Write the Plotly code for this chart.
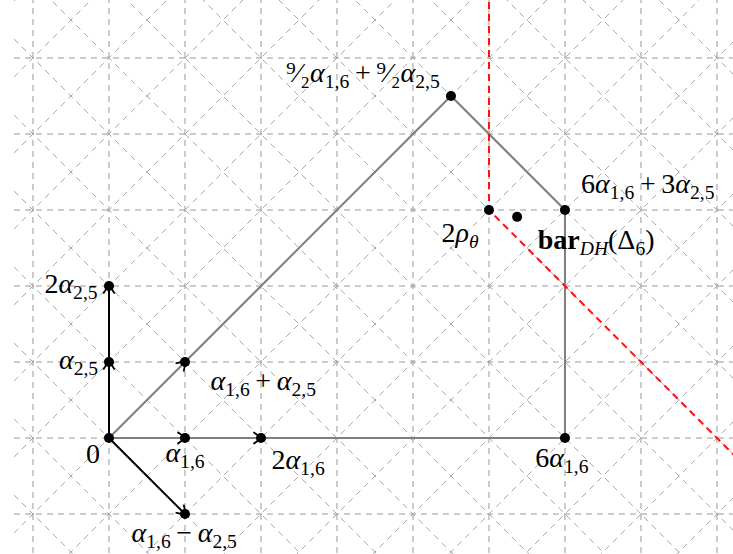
import numpy as np
import plotly.graph_objects as go

# ---------------- data ----------------
grid_x = [-1, 0, 1, 2, 3, 4, 5, 6, 7, 8]
grid_y = [-1, 0, 1, 2, 3, 4, 5]
diag_sum = list(range(-3, 15))      # x + y = k
diag_diff = list(range(-7, 10))     # x - y = k

polygon_x = [0, 4.5, 6, 6, 0]
polygon_y = [0, 4.5, 3, 0, 0]

# black arrows: (start, end)
arrow_starts = [(0, 0), (0, 1), (0, 0), (1, 0), (0, 0), (0, 0)]
arrow_ends = [(0, 1), (0, 2), (1, 0), (2, 0), (1, 1), (1, -1)]
black_segments = [((0, 0), (0, 2)), ((0, 0), (1, -1))]

point_x = [0, 1, 2, 6, 0, 0, 1, 1, 4.5, 6, 5, 5.37]
point_y = [0, 0, 0, 0, 1, 2, 1, -1, 4.5, 3, 3, 2.91]

rho = (5, 3)
red_dir_up = (0, 1)
red_dir_diag = (1, -1)

SP = "\u2009"
labels = ["0", "<i>α</i><sub>1,6</sub>", "2<i>α</i><sub>1,6</sub>", "6<i>α</i><sub>1,6</sub>",
          "<i>α</i><sub>2,5</sub>", "2<i>α</i><sub>2,5</sub>",
          f"<i>α</i><sub>1,6</sub>{SP}+{SP}<i>α</i><sub>2,5</sub>",
          f"<i>α</i><sub>1,6</sub>{SP}−{SP}<i>α</i><sub>2,5</sub>",
          f"⁹⁄₂<i>α</i><sub>1,6</sub>{SP}+{SP}⁹⁄₂<i>α</i><sub>2,5</sub>",
          f"6<i>α</i><sub>1,6</sub>{SP}+{SP}3<i>α</i><sub>2,5</sub>",
          "2<i>ρ</i><sub><i>θ</i></sub>",
          "<b>bar</b><sub><i>DH</i></sub>(Δ<sub>6</sub>)"]
label_x = [-0.21, 1.0, 2.49, 5.96, -0.4, -0.5, 2.03, 0.99, 3.34, 7.09, 4.62, 6.41]
label_y = [-0.24, -0.22, -0.32, -0.29, 1.0, 2.0, 0.72, -1.28, 4.78, 3.32, 2.67, 2.58]

X_RANGE = [-1.434, 8.211]
Y_RANGE = [-1.526, 5.763]
X_CLIP = -1.25

fig = go.Figure()

grid_style = dict(color="#999999", width=1, dash="6px,5px")
diag_style = dict(color="#a8a8a8", width=1, dash="6px,5px")

# vertical & horizontal grid lines
gx, gy = [], []
for v in grid_x:
    gx += [v, v, None]
    gy += [Y_RANGE[0] - 1, Y_RANGE[1] + 1, None]
for h in grid_y:
    gx += [X_CLIP, X_RANGE[1] + 1, None]
    gy += [h, h, None]
fig.add_trace(go.Scatter(x=gx, y=gy, mode="lines", line=grid_style, hoverinfo="skip"))

# diagonal grid lines
dx, dy = [], []
x0, x1 = X_CLIP, X_RANGE[1] + 1
for k in diag_sum:
    dx += [x0, x1, None]
    dy += [k - x0, k - x1, None]
for k in diag_diff:
    dx += [x0, x1, None]
    dy += [x0 - k, x1 - k, None]
fig.add_trace(go.Scatter(x=dx, y=dy, mode="lines", line=diag_style, hoverinfo="skip"))

# grey polygon
fig.add_trace(go.Scatter(x=polygon_x, y=polygon_y, mode="lines",
                         line=dict(color="#7f7f7f", width=2), hoverinfo="skip"))

# black segments
bx, by = [], []
for (a, b) in black_segments:
    bx += [a[0], b[0], None]
    by += [a[1], b[1], None]
fig.add_trace(go.Scatter(x=bx, y=by, mode="lines",
                         line=dict(color="black", width=2), hoverinfo="skip"))

# red dashed lines
rx = [rho[0] + 10 * red_dir_up[0], rho[0], rho[0] + 10 * red_dir_diag[0]]
ry = [rho[1] + 10 * red_dir_up[1], rho[1], rho[1] + 10 * red_dir_diag[1]]
fig.add_trace(go.Scatter(x=rx, y=ry, mode="lines",
                         line=dict(color="#ff1010", width=2, dash="7px,5px"), hoverinfo="skip"))

# points
fig.add_trace(go.Scatter(x=point_x, y=point_y, mode="markers",
                         marker=dict(color="black", size=10), hoverinfo="skip"))

# arrow barbs (drawn from arrow directions)
L, W = 0.1, 0.075
for s, e in zip(arrow_starts, arrow_ends):
    s = np.array(s, float); e = np.array(e, float)
    d = (e - s) / np.linalg.norm(e - s)
    n = np.array([-d[1], d[0]])
    tip = e + 0.01 * d
    left = e - L * d + W * n
    right = e - L * d - W * n
    ml = e - 0.35 * L * d + 0.45 * W * n
    mr = e - 0.35 * L * d - 0.45 * W * n
    fig.add_trace(go.Scatter(x=[left[0], ml[0], tip[0], mr[0], right[0]],
                             y=[left[1], ml[1], tip[1], mr[1], right[1]],
                             mode="lines", line=dict(color="black", width=1.8, shape="spline"),
                             hoverinfo="skip"))

# labels
fig.add_trace(go.Scatter(x=label_x, y=label_y, mode="text", text=labels,
                         textfont=dict(family="Liberation Serif", size=28, color="black"),
                         hoverinfo="skip"))

fig.update_layout(
    width=733, height=554, autosize=False,
    margin=dict(l=0, r=0, t=0, b=0, pad=0),
    paper_bgcolor="white", plot_bgcolor="white",
    showlegend=False,
    xaxis=dict(range=X_RANGE, visible=False, showgrid=False, zeroline=False),
    yaxis=dict(range=Y_RANGE, visible=False, showgrid=False, zeroline=False),
)

fig.write_html("out.html", config={"displayModeBar": False},
               post_script="document.body.style.margin='0';document.body.style.padding='0';")
